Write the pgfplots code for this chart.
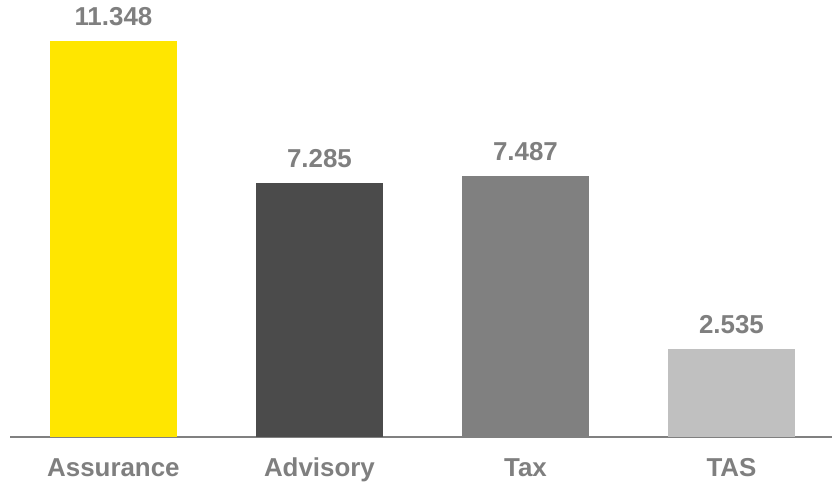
\documentclass[border=0pt]{standalone}
\usepackage{pgfplots}
\pgfplotsset{compat=1.18}
\usepackage{fontspec}
\setmainfont{Liberation Sans}

\definecolor{eyyellow}{HTML}{FFE600}
\definecolor{barDark}{HTML}{4B4B4B}
\definecolor{barMid}{HTML}{808080}
\definecolor{barLight}{HTML}{C0C0C0}
\definecolor{txtgray}{HTML}{7F7F7F}

\begin{document}
\begin{tikzpicture}
\path[use as bounding box] (0,0) rectangle (832bp,482bp);
\begin{axis}[
  at={(10bp,45bp)}, anchor=south west,
  scale only axis, width=822bp, height=437bp,
  xmin=-0.502, xmax=3.488, ymin=0, ymax=12.52,
  axis x line*=bottom, axis y line=none,
  x axis line style={barMid, line width=2bp, -},
  xtick={0,1,2,3}, xticklabels={Assurance,Advisory,Tax,TAS},
  major tick length=0pt,
  xticklabel style={anchor=north, inner sep=0pt, yshift=-21bp,
    font=\fontsize{26}{30}\selectfont\bfseries, text=txtgray},
  ybar, bar width=127bp, bar shift=0pt,
  clip=false,
  point meta=explicit symbolic,
  nodes near coords,
  nodes near coords style={anchor=south, inner sep=0pt, yshift=15bp,
    font=\fontsize{26}{30}\selectfont\bfseries, text=txtgray},
]
\addplot[fill=eyyellow, draw=none] coordinates {(0,11.348) [11.348]};
\addplot[fill=barDark, draw=none] coordinates {(1,7.285) [7.285]};
\addplot[fill=barMid, draw=none] coordinates {(2,7.487) [7.487]};
\addplot[fill=barLight, draw=none] coordinates {(3,2.535) [2.535]};
\end{axis}
\end{tikzpicture}
\end{document}
